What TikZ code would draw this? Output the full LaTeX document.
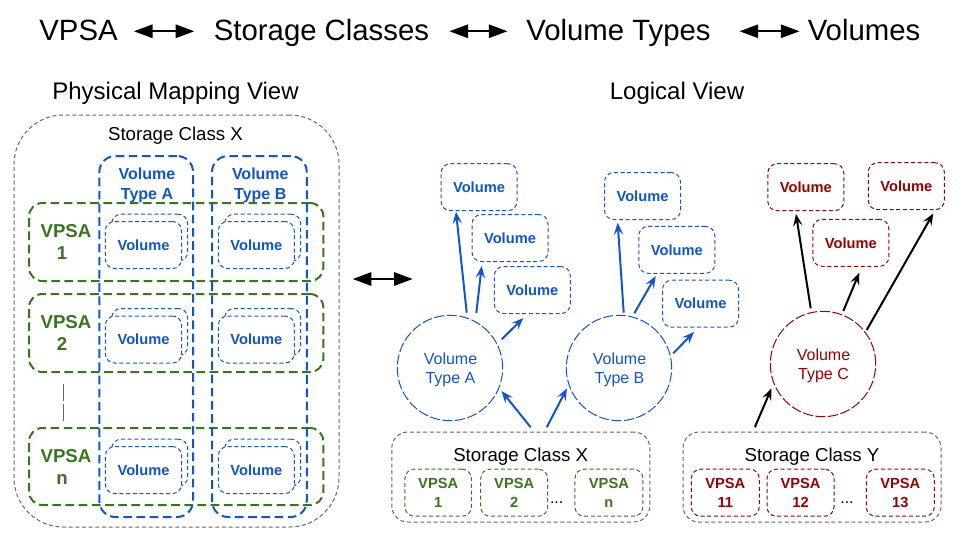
\documentclass[tikz,border=0pt]{standalone}
\usepackage{fontspec}
\setmainfont{Liberation Sans}
\usetikzlibrary{arrows.meta}
\definecolor{cblue}{HTML}{1155CC}
\definecolor{cgreen}{HTML}{38761D}
\definecolor{cred}{HTML}{990000}
\definecolor{cgray}{HTML}{666666}
\tikzset{
  sized/.style 2 args={minimum width=#1*0.75pt,minimum height=#2*0.75pt,inner sep=0pt,align=center},
  thickdash/.style={line width=1.5pt,dash pattern=on 6.5pt off 3.4pt},
  thindash/.style={line width=0.75pt,dash pattern=on 3pt off 2pt},
  grayframe/.style={draw=cgray,thindash},
  coltype/.style={draw=cblue,thickdash,rounded corners=12pt,text=cblue},
  rowvpsa/.style={draw=cgreen,thickdash,rounded corners=10pt},
  volback/.style={draw=cblue,thindash,fill=white,rounded corners=7pt},
  volfront/.style={draw=cblue,thindash,fill=white,rounded corners=7pt,text=cblue,font=\fontsize{11}{13}\selectfont\bfseries},
  volblue/.style={sized={76}{47},draw=cblue,thindash,rounded corners=7pt,text=cblue,font=\fontsize{11}{13}\selectfont\bfseries},
  volred/.style={sized={76}{47},draw=cred,thindash,rounded corners=7pt,text=cred,font=\fontsize{11}{13}\selectfont\bfseries},
  typecircle/.style={circle,minimum size=105.4*0.75pt,inner sep=0pt,align=center,line width=0.75pt,dash pattern=on 7.5pt off 2pt,font=\fontsize{12}{14.3}\selectfont},
  typelabel/.style={inner sep=0pt,align=center,font=\fontsize{12}{14.3}\selectfont},
  minigreen/.style={sized={68}{47},draw=cgreen,thindash,rounded corners=7pt},
  minired/.style={sized={68}{47},draw=cred,thindash,rounded corners=7pt},
  minilabel/.style={inner sep=0pt,align=center,font=\fontsize{11}{14}\selectfont\bfseries},
  titletext/.style={inner sep=0pt,text height=16pt,text depth=5pt,font=\fontsize{22}{26}\selectfont},
  headtext/.style={inner sep=0pt,font=\fontsize{18}{22}\selectfont},
  labeltext/.style={inner sep=0pt,font=\fontsize{14}{17}\selectfont},
  vpsatext/.style={inner sep=0pt,align=center,text=cgreen,font=\fontsize{14}{16.5}\selectfont\bfseries},
  typetext/.style={inner sep=0pt,align=center,text=cblue,font=\fontsize{12}{15}\selectfont\bfseries},
  dbl/.style={line width=1.5pt,{Stealth[length=14pt,width=10pt,inset=0pt]}-{Stealth[length=14pt,width=10pt,inset=0pt]}},
  arrowblue/.style={draw=cblue,line width=1.5pt,-{Stealth[length=9pt,width=7pt,inset=3.5pt]}},
  arrowblack/.style={draw=black,line width=1.5pt,-{Stealth[length=9pt,width=7pt,inset=3.5pt]}},
}
\begin{document}
\begin{tikzpicture}[x=0.75pt,y=-0.75pt]
\useasboundingbox (0,0) rectangle (960,540);
\fill[white] (0,0) rectangle (960,540);
% titles
\node[titletext] (t1) at (78.5,33) {VPSA};
\node[titletext] (t2) at (321.5,33) {Storage Classes};
\node[titletext] (t3) at (618.5,33) {Volume Types};
\node[titletext] (t4) at (864,33) {Volumes};
\draw[dbl,shorten <=12pt,shorten >=14.5pt] ([yshift=1.3pt]t1.east) -- ([yshift=1.3pt]t2.west);
\draw[dbl,shorten <=15pt,shorten >=14pt] ([yshift=1.3pt]t2.east) -- ([yshift=1.3pt]t3.west);
\draw[dbl,shorten <=21.5pt,shorten >=6pt] ([yshift=1.3pt]t3.east) -- ([yshift=1.3pt]t4.west);
\node[headtext] (hp) at (175.5,93) {Physical Mapping View};
\node[headtext] (hl) at (677,93) {Logical View};
% physical view
\node[sized={325}{412},grayframe,rounded corners=37pt] (outer) at (176.5,321) {};
\node[labeltext] (outerlabel) at (175.5,135.5) {Storage Class X};
\node[sized={294.3}{78},rowvpsa] (row1) at (176.2,242) {};
\node[sized={294.3}{78},rowvpsa] (row2) at (176.2,333) {};
\node[sized={294.3}{77},rowvpsa] (rown) at (176.2,466.5) {};
\node[sized={93.7}{361},coltype] (cola) at (146.2,336.5) {};
\node[sized={94.7}{361},coltype] (colb) at (259.4,336.5) {};
\node[typetext] (cola t) at (147,185) {Volume\\Type A};
\node[typetext] (colb t) at (260.3,185) {Volume\\Type B};
\node[vpsatext] (r1t) at (66,241.5) {VPSA\\1\hspace*{6pt}};
\node[vpsatext] (r2t) at (66,332.5) {VPSA\\2\hspace*{6pt}};
\node[vpsatext] (rnt) at (66,466.5) {VPSA\\n\hspace*{6pt}};
\coordinate (gapa) at (63.3,384);
\coordinate (gapb) at (63.3,420.7);
\draw[draw=cgray,line width=0.75pt,dash pattern=on 13pt off 2pt] (gapa) -- (gapb);
% paired volumes
\node[sized={76}{47},volback] (ba1) at (149.7,237.7) {};
\node[sized={76.4}{47},volfront] (fa1) at (143.5,245) {Volume};
\node[sized={76}{47},volback] (bb1) at (262.7,237.7) {};
\node[sized={76}{47},volfront] (fb1) at (256.3,245) {Volume};
\node[sized={76}{47},volback] (ba2) at (149.7,332) {};
\node[sized={76.4}{47},volfront] (fa2) at (143.5,339.5) {Volume};
\node[sized={76}{47},volback] (bb2) at (262.7,332) {};
\node[sized={76}{47},volfront] (fb2) at (256.3,339.5) {Volume};
\node[sized={76}{47},volback] (ba3) at (149.7,462.7) {};
\node[sized={76.4}{47},volfront] (fa3) at (143.5,470) {Volume};
\node[sized={76}{47},volback] (bb3) at (262.7,462.7) {};
\node[sized={76}{47},volfront] (fb3) at (256.3,470) {Volume};
% middle arrow
\coordinate (ml) at (352.7,279);
\coordinate (mr) at (412.7,279);
\draw[dbl] (ml) -- (mr);
% logical view
\node[volblue] (v1) at (479,187.2) {Volume};
\node[volblue] (v2) at (510,238) {Volume};
\node[volblue] (v3) at (532.3,290) {Volume};
\node[volblue] (v4) at (642.5,196) {Volume};
\node[volblue] (v5) at (676.8,249.8) {Volume};
\node[volblue] (v6) at (700.5,303.7) {Volume};
\node[volred] (r1) at (805.8,187.2) {Volume};
\node[volred] (r2) at (850.8,242.8) {Volume};
\node[volred] (r3) at (906.3,186.2) {Volume};
\node[typecircle,draw=cblue] (ca) at (450,368) {};
\node[typecircle,draw=cblue] (cb) at (619,368) {};
\node[typecircle,draw=cred] (cc) at (823,364) {};
\node[typelabel,text=cblue] (cat) at (450.5,369.5) {Volume\\Type A};
\node[typelabel,text=cblue] (cbt) at (619.5,369.5) {Volume\\Type B};
\node[typelabel,text=cred] (cct) at (823.5,365.5) {Volume\\Type C};
% storage boxes
\node[sized={258}{90},grayframe,rounded corners=12pt] (sx) at (520.8,477) {};
\node[sized={258}{90},grayframe,rounded corners=12pt] (sy) at (812,477) {};
\node[labeltext] (sxt) at (520.7,456.5) {Storage Class X};
\node[labeltext] (syt) at (812,456.5) {Storage Class Y};
\node[minigreen,minimum width=66.5*0.75pt] (g1) at (438.2,492.7) {};
\node[minigreen,minimum width=67*0.75pt] (g2) at (514.2,492.7) {};
\node[minigreen] (g3) at (608.9,492.7) {};
\node[minilabel,text=cgreen] (g1t) at (438.2,492.7) {VPSA\\1};
\node[minilabel,text=cgreen] (g2t) at (514.2,492.7) {VPSA\\2};
\node[minilabel,text=cgreen] (g3t) at (608.9,492.7) {VPSA\\n};
\node[inner sep=0pt,font=\fontsize{12}{14}\selectfont] (gd) at (556.7,503) {...};
\node[minired] (m1) at (725.3,492.7) {};
\node[minired,minimum width=67*0.75pt] (m2) at (800.5,492.7) {};
\node[minired] (m3) at (900.3,492.7) {};
\node[minilabel,text=cred] (m1t) at (725.3,492.7) {VPSA\\11};
\node[minilabel,text=cred] (m2t) at (800.5,492.7) {VPSA\\12};
\node[minilabel,text=cred] (m3t) at (900.3,492.7) {VPSA\\13};
\node[inner sep=0pt,font=\fontsize{12}{14}\selectfont] (md) at (847,503) {...};
% connectors
\draw[arrowblue] ([shift={(16.7,-55.3)}]ca.center) -- ([shift={(-23,24.5)}]v1.center);
\draw[arrowblue] ([shift={(26.3,-55)}]ca.center) -- ([shift={(-28.3,28)}]v2.center);
\draw[arrowblue] ([shift={(51.7,-28.7)}]ca.center) -- ([shift={(-9,28)}]v3.center);
\draw[arrowblue] ([shift={(4.7,-55.3)}]cb.center) -- ([shift={(-24.8,26.7)}]v4.center);
\draw[arrowblue] ([shift={(15.3,-54.7)}]cb.center) -- ([shift={(-21.1,26.2)}]v5.center);
\draw[arrowblue] ([shift={(54.3,-14.7)}]cb.center) -- ([shift={(-6.5,28.3)}]v6.center);
\draw[arrowblack] ([shift={(-12.3,-55.7)}]cc.center) -- ([shift={(-9.8,26.8)}]r1.center);
\draw[arrowblack] ([shift={(20.3,-53)}]cc.center) -- ([shift={(8.5,29.9)}]r2.center);
\draw[arrowblack] ([shift={(43.7,-34)}]cc.center) -- ([shift={(27,27.1)}]r3.center);
\draw[arrowblue] ([shift={(9.9,-49.7)}]sx.center) -- ([shift={(51.5,23)}]ca.center);
\draw[arrowblue] ([shift={(25.9,-49.7)}]sx.center) -- ([shift={(-52,20.3)}]cb.center);
\draw[arrowblack] ([shift={(-57.2,-49.7)}]sy.center) -- ([shift={(-51.5,24.3)}]cc.center);
\end{tikzpicture}
\end{document}
